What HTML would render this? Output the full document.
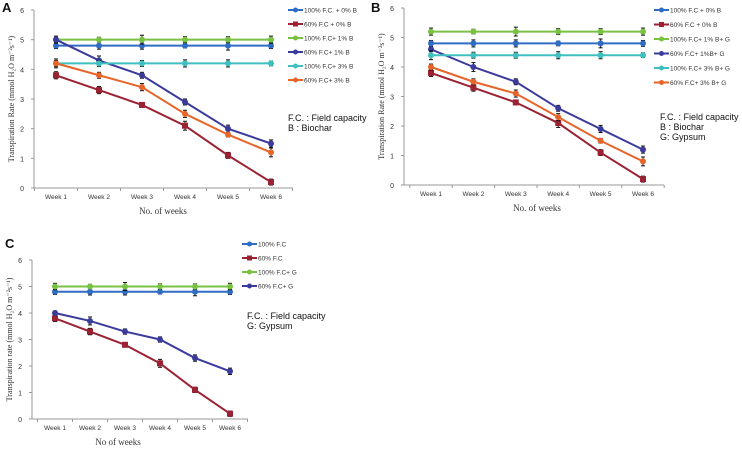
<!DOCTYPE html>
<html><head><meta charset="utf-8"><style>
body{margin:0;background:#fff;width:742px;height:461px;overflow:hidden}
svg{display:block}
text{font-family:"Liberation Sans",sans-serif}
.ser{font-family:"Liberation Serif",serif}
</style></head><body>
<svg id="s" width="742" height="461" viewBox="0 0 742 461"></svg>
<script>
const weeks=["Week 1","Week 2","Week 3","Week 4","Week 5","Week 6"];
const yTicks=[0,1,2,3,4,5,6];
const colors=["#2f6cc4","#9b2232","#79c142","#3b3b9c","#3fbfbf","#e8652a"];
const aNames=["100% F.C. + 0% B","60% F.C + 0% B","100% F.C+ 1% B","60% F.C+ 1% B","100% F.C+ 3% B","60% F.C+ 3% B"];
const a1=[4.8,4.8,4.8,4.8,4.8,4.8];
const a2=[3.8,3.3,2.8,2.1,1.1,0.2];
const a3=[5,5,5,5,5,5];
const a4=[5.0,4.3,3.8,2.9,2.0,1.5];
const a5=[4.2,4.2,4.2,4.2,4.2,4.2];
const a6=[4.2,3.8,3.4,2.5,1.8,1.2];
const bNames=["100% F.C + 0% B","60% F.C + 0% B","100% F.C+ 1% B+ G","60% F.C+ 1%B+ G","100% F.C+ 3% B+ G","60% F.C+ 3% B+ G"];
const b1=[4.8,4.8,4.8,4.8,4.8,4.8];
const b2=[3.8,3.3,2.8,2.1,1.1,0.2];
const b3=[5.2,5.2,5.2,5.2,5.2,5.2];
const b4=[4.6,4.0,3.5,2.6,1.9,1.2];
const b5=[4.4,4.4,4.4,4.4,4.4,4.4];
const b6=[4.0,3.5,3.1,2.3,1.5,0.8];
const cNames=["100% F.C","60% F.C","100% F.C+ G","60% F.C+ G"];
const c1=[4.8,4.8,4.8,4.8,4.8,4.8];
const c2=[3.8,3.3,2.8,2.1,1.1,0.2];
const c3=[5,5,5,5,5,5];
const c4=[4.0,3.7,3.3,3.0,2.3,1.8];
const errs=[0.1,0.12,0.12,0.08,0.15,0.1];

const svg=document.getElementById('s');
const NS="http://www.w3.org/2000/svg";
function el(tag,at,parent,txt){const e=document.createElementNS(NS,tag);for(const k in at)e.setAttribute(k,at[k]);if(txt!=null)e.textContent=txt;(parent||svg).appendChild(e);return e;}

function panel(p){
  const g=el('g',{});
  
  
  const xs=i=>p.x1+(p.x6-p.x1)*i/5;
  const ys=v=>p.y0+(p.y6-p.y0)*v/6;
  el('line',{x1:p.ax,y1:p.y6,x2:p.ax,y2:p.y0,stroke:'#999','stroke-width':1},g);
  el('line',{x1:p.ax,y1:p.y0,x2:p.axEnd,y2:p.y0,stroke:'#999','stroke-width':1},g);
  yTicks.forEach(t=>{
    el('line',{x1:p.ax-3,x2:p.ax,y1:ys(t),y2:ys(t),stroke:'#999'},g);
    const tt=el('text',{x:p.ax-10,y:ys(t)+3,'font-size':7,'text-anchor':'end',fill:'#333'},g,t);
    
  });
  const step=(p.x6-p.x1)/5;
  for(let i=0;i<=6;i++){const xx=p.x1-step/2+i*step;el('line',{x1:xx,x2:xx,y1:p.y0,y2:p.y0+3,stroke:'#999'},g);}
  weeks.forEach((w,i)=>{const t=el('text',{x:xs(i),y:p.y0+11,'font-size':6.5,'text-anchor':'middle',fill:'#333'},g,w);});
  const xt=el('text',{x:p.xtx,y:p.y0+26,'font-size':9,'text-anchor':'middle',fill:'#333',class:'ser'},g,p.xtitle);
  
  const yt=el('text',{transform:`translate(${p.ax-20},${(p.y0+p.y6)/2}) rotate(-90)`,'font-size':8,'text-anchor':'middle',fill:'#333',class:'ser'},g,p.ytitle);
  
  const lab=el('text',{x:p.lx,y:p.ly,'font-size':13,'font-weight':'bold',fill:'#111'},g,p.id);
  
  p.series.forEach((s,k)=>{
    const c=colors[p.cols[k]];
    const pts=s.map((v,i)=>xs(i)+','+ys(v)).join(' ');
    const pl=el('polyline',{points:pts,fill:'none',stroke:c,'stroke-width':2},g);
    
    s.forEach((v,i)=>{
      const e=errs[(i+k)%6];
      el('line',{x1:xs(i),x2:xs(i),y1:ys(v+e),y2:ys(v-e),stroke:'#111','stroke-width':1},g);
      el('line',{x1:xs(i)-2,x2:xs(i)+2,y1:ys(v+e),y2:ys(v+e),stroke:'#111'},g);
      el('line',{x1:xs(i)-2,x2:xs(i)+2,y1:ys(v-e),y2:ys(v-e),stroke:'#111'},g);
      const m=el('rect',{x:xs(i)-3,y:ys(v)-3,width:6,height:6,fill:c,rx:p.cols[k]==1?0:3},g);
      
    });
    const ly=p.legY+k*p.legStep;
    const lg=el('g',{},g);
    
    
    el('line',{x1:p.legX,x2:p.legX+15,y1:ly,y2:ly,stroke:c,'stroke-width':2},lg);
    el('rect',{x:p.legX+5,y:ly-2.5,width:5,height:5,fill:c,rx:p.cols[k]==1?0:2.5},lg);
    el('text',{x:p.legX+16,y:ly+2.5,'font-size':6.5,fill:'#333'},lg,p.names[k]);
  });
  p.notes.forEach((n,i)=>{const t=el('text',{x:p.nx,y:p.ny+i*10,'font-size':9,fill:'#111'},g,n);});
}
panel({id:'A',ax:34,axEnd:293,x1:56,x6:271,y0:188,y6:10,lx:2,ly:12,xtx:163,xtitle:'No. of weeks',
  ytitle:'Transpiration Rate (mmol H₂O m⁻²s⁻¹)',series:[a1,a2,a3,a4,a5,a6],cols:[0,1,2,3,4,5],names:aNames,
  legX:288,legY:10,legStep:14,notes:['F.C. : Field capacity','B : Biochar'],nx:288,ny:121});
panel({id:'B',ax:404,axEnd:664,x1:431,x6:643,y0:185,y6:8,lx:371,ly:12,xtx:537,xtitle:'No. of weeks',
  ytitle:'Transpiration Rate (mmol H₂O m⁻²s⁻¹)',series:[b1,b2,b3,b4,b5,b6],cols:[0,1,2,3,4,5],names:bNames,
  legX:654,legY:10,legStep:14.5,notes:['F.C. : Field capacity','B : Biochar','G: Gypsum'],nx:660,ny:120});
panel({id:'C',ax:32,axEnd:248,x1:55,x6:230,y0:419,y6:260,lx:5,ly:248,xtx:118,xtitle:'No of weeks',
  ytitle:'Transpiration rate (mmol H₂O m⁻²s⁻¹)',series:[c1,c2,c3,c4],cols:[0,1,2,3],names:cNames,
  legX:242,legY:244,legStep:14,notes:['F.C. : Field capacity','G: Gypsum'],nx:247,ny:319});
</script>
</body></html>
